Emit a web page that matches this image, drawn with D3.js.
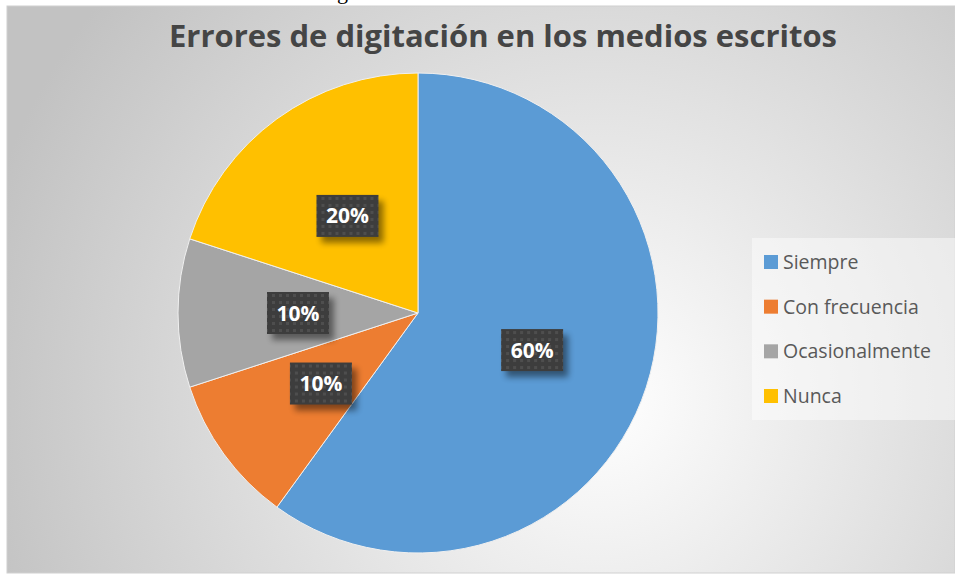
<!DOCTYPE html>
<html>
<head>
<meta charset="utf-8">
<script src="https://cdn.jsdelivr.net/npm/d3@7"></script>
<style>
  html, body { margin: 0; padding: 0; background: #fff; }
  svg { display: block; }
</style>
</head>
<body>
<div id="chart"></div>
<script>
const width = 955;
const height = 575;

// chart data
const categories = ["Siempre", "Con frecuencia", "Ocasionalmente", "Nunca"];
const values = [60, 10, 10, 20];
const labels = ["60%", "10%", "10%", "20%"];
const colors = ["#5b9bd5", "#ed7d31", "#a5a5a5", "#ffc000"];
const title = "Errores de digitación en los medios escritos";

const cx = 418, cy = 313, radius = 240;

const svg = d3.select("#chart")
    .append("svg")
    .attr("width", width)
    .attr("height", height);

const defs = svg.append("defs");

// background gradient of the chart area
const bg = defs.append("radialGradient")
    .attr("id", "bg")
    .attr("gradientUnits", "userSpaceOnUse")
    .attr("cx", 600).attr("cy", 400).attr("r", 640);
bg.append("stop").attr("offset", "0").attr("stop-color", "#ffffff");
bg.append("stop").attr("offset", "1").attr("stop-color", "#c2c2c2");

// dotted texture for the label boxes
const pat = defs.append("pattern")
    .attr("id", "dots")
    .attr("patternUnits", "userSpaceOnUse")
    .attr("width", 7).attr("height", 7);
pat.append("rect").attr("width", 7).attr("height", 7).attr("fill", "#3d3d3d");
pat.append("rect").attr("x", 2).attr("y", 2).attr("width", 3).attr("height", 3).attr("fill", "#4e4e4e");

const blur = defs.append("filter").attr("id", "shadow")
    .attr("x", "-30%").attr("y", "-30%").attr("width", "160%").attr("height", "160%");
blur.append("feGaussianBlur").attr("stdDeviation", 3);

// descender of the text line above the chart (clipped, as in the source)
svg.append("text")
    .attr("x", 337).attr("y", -1)
    .attr("font-family", "Liberation Serif")
    .attr("font-size", 22)
    .attr("fill", "#000")
    .text("g");

// chart area
svg.append("rect")
    .attr("x", 7).attr("y", 6)
    .attr("width", width - 7).attr("height", 567)
    .attr("fill", "url(#bg)")
    .attr("stroke", "#d0d0d0")
    .attr("stroke-width", 1);

svg.append("text")
    .attr("x", 503).attr("y", 47)
    .attr("text-anchor", "middle")
    .attr("font-family", "Open Sans")
    .attr("font-weight", "bold")
    .attr("font-size", 30)
    .attr("fill", "#454545")
    .attr("textLength", 668)
    .attr("lengthAdjust", "spacingAndGlyphs")
    .text(title);

// pie
const pie = d3.pie().sort(null).value(d => d);
const arcs = pie(values);
const arc = d3.arc().innerRadius(0).outerRadius(radius);
const labelArc = d3.arc().innerRadius(radius / 2).outerRadius(radius / 2);

const g = svg.append("g").attr("transform", `translate(${cx},${cy})`);

g.selectAll("path")
    .data(arcs)
    .enter()
    .append("path")
    .attr("d", arc)
    .attr("fill", (d, i) => colors[i])
    .attr("stroke", "#f0f0f0")
    .attr("stroke-width", 1);

// data labels
const boxW = 62, boxH = 42;
const lab = g.selectAll("g.lab")
    .data(arcs)
    .enter()
    .append("g")
    .attr("class", "lab")
    .attr("transform", d => {
        const c = labelArc.centroid(d);
        return `translate(${c[0]},${c[1]})`;
    });

lab.append("rect")
    .attr("x", -boxW / 2 + 5).attr("y", -boxH / 2 + 6)
    .attr("width", boxW).attr("height", boxH)
    .attr("fill", "#000")
    .attr("opacity", 0.45)
    .attr("filter", "url(#shadow)");

lab.append("rect")
    .attr("x", -boxW / 2).attr("y", -boxH / 2)
    .attr("width", boxW).attr("height", boxH)
    .attr("fill", "url(#dots)");

lab.append("text")
    .attr("text-anchor", "middle")
    .attr("dy", "0.36em")
    .attr("font-family", "Open Sans")
    .attr("font-weight", "bold")
    .attr("font-size", 21)
    .attr("fill", "#fff")
    .text((d, i) => labels[i]);

// legend
const legend = svg.append("g");
legend.append("rect")
    .attr("x", 752).attr("y", 238)
    .attr("width", 203).attr("height", 182)
    .attr("fill", "#ffffff")
    .attr("opacity", 0.45);

const ly = d3.scalePoint().domain(categories).range([262, 396]);

const items = legend.selectAll("g.item")
    .data(categories)
    .enter()
    .append("g")
    .attr("class", "item")
    .attr("transform", d => `translate(764,${ly(d)})`);

items.append("rect")
    .attr("x", 0).attr("y", -7)
    .attr("width", 14).attr("height", 14)
    .attr("fill", (d, i) => colors[i]);

items.append("text")
    .attr("x", 19)
    .attr("dy", "0.36em")
    .attr("font-family", "Open Sans")
    .attr("font-size", 19.5)
    .attr("fill", "#595959")
    .text(d => d);
</script>
</body>
</html>
